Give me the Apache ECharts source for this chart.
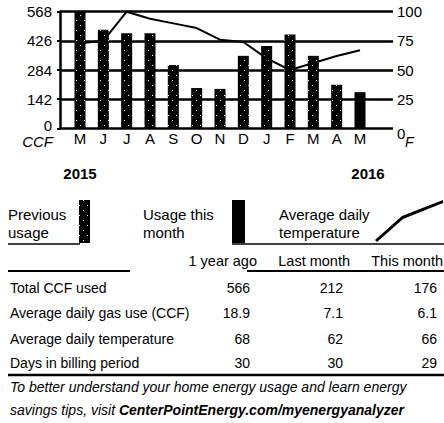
<!DOCTYPE html>
<html><head><meta charset="utf-8">
<script src="https://cdn.jsdelivr.net/npm/echarts@6/dist/echarts.min.js"></script>
<style>html,body{margin:0;padding:0;background:#fff}#c{width:444px;height:423px}</style>
</head><body><div id="c"></div>
<script>
const months = ['M','J','J','A','S','O','N','D','J','F','M','A','M'];
const usage = [566,480,463,463,308,196,192,353,401,457,353,212,176];
const temps = [73,75,100,94,90,86,76,74,60,50,56,62,67];
const ccfMax = 568, ccfStep = 142;
const tempMax = 100, tempStep = 25;
const years = ['2015','2016'];
const legendNames = ['Previous usage','Usage this month','Average daily temperature'];
const legendLabels = [['Previous','usage'],['Usage this','month'],['Average daily','temperature']];
const tableHeaders = ['1 year ago','Last month','This month'];
const rowLabels = ['Total CCF used','Average daily gas use (CCF)','Average daily temperature','Days in billing period'];
const yearAgo = ['566','18.9','68','30'];
const lastMonth = ['212','7.1','62','30'];
const thisMonth = ['176','6.1','66','29'];
const footer1 = 'To better understand your home energy usage and learn energy';
const footer2a = 'savings tips, visit ';
const footer2b = 'CenterPointEnergy.com/myenergyanalyzer';

const N = "'Liberation Sans',Arial,sans-serif";
const K = '#000000';
const lastIdx = usage.length - 1;
const prevData = usage.map((v, i) => i < lastIdx ? v : '-');
const curData = usage.map((v, i) => i === lastIdx ? v : '-');

const decal = { color: '#ffffff', backgroundColor: null, symbol: 'rect', symbolSize: 1,
  dashArrayX: [[1, 7], [0, 4, 1, 3]], dashArrayY: [1, 4], rotation: 0 };

const gTop = 11.7, gBottom = 423 - 128.3;
const g = [];
function txt(x, y, s, o) { g.push({ type: 'text', x, y, silent: true, style: Object.assign({ text: s, fill: K, font: "14px " + N, textVerticalAlign: 'middle' }, o || {}) }); }
function hline(x1, y1, x2, y2, w) { g.push({ type: 'line', silent: true, shape: { x1, y1, x2, y2 }, style: { stroke: K, lineWidth: w || 2 } }); }

txt(52, 125, '0', { textAlign: 'right', font: "15px " + N });
txt(53, 141, 'CCF', { textAlign: 'right', font: "italic 15px " + N });
txt(397, 133, '0', { textAlign: 'left', font: "15px " + N });
txt(405, 142, 'F', { textAlign: 'left', font: "italic 14px " + N });
txt(80, 173, years[0], { textAlign: 'center', font: "bold 15px " + N });
txt(368, 173, years[1], { textAlign: 'center', font: "bold 15px " + N });
hline(8, 244, 80, 244, 1.5);
hline(232, 244, 444, 244, 1.5);
const colRight = [257, 350, 443];
tableHeaders.forEach((h, i) => txt(colRight[i], 261, h, { textAlign: 'right', font: "14.5px " + N }));
hline(8, 271, 130, 271, 2);
hline(247, 271, 444, 271, 2);
const valRight = [250, 343, 437];
const rowY = [288, 313, 339, 363];
rowLabels.forEach((r, i) => {
  txt(10, rowY[i], r);
  txt(valRight[0], rowY[i], yearAgo[i], { textAlign: 'right' });
  txt(valRight[1], rowY[i], lastMonth[i], { textAlign: 'right' });
  txt(valRight[2], rowY[i], thisMonth[i], { textAlign: 'right' });
});
hline(8, 375, 444, 375, 2.5);
txt(10, 387, footer1, { font: "italic 14px " + N });
g.push({ type: 'text', x: 10, y: 410, silent: true, style: {
  text: '{a|' + footer2a + '}{b|' + footer2b + '}', textVerticalAlign: 'middle',
  rich: { a: { font: "italic 14px " + N, fill: K }, b: { font: "italic bold 14px " + N, fill: K } } } });

function legendItem(idx, left, w, iw, ih, icon) {
  return {
    show: true, data: [legendNames[idx]], left, top: 200, padding: 0, align: 'right',
    itemWidth: iw, itemHeight: ih, selectedMode: false, icon,
    formatter: () => legendLabels[idx].map(s => '{a|' + s + '}').join('\n'),
    textStyle: { rich: { a: { width: w, align: 'left', fontSize: 15, fontFamily: N, color: K, lineHeight: 18, padding: [4, 0, 0, 0] } } }
  };
}

const option = {
  animation: false,
  backgroundColor: '#ffffff',
  grid: [
    { left: 60, right: 51, top: gTop, bottom: gBottom },
    { left: 68.33, right: 72.33, top: gTop, bottom: gBottom }
  ],
  legend: [
    legendItem(0, 8, 66, 11, 43, 'rect'),
    legendItem(1, 143, 84, 13, 43, 'rect'),
    legendItem(2, 279, 91, 68, 42, 'path://M0,40 L27,16 L68,0 L68,3 L28,19 L2,42 Z')
  ],
  xAxis: [
    { type: 'value', gridIndex: 0, min: 0, max: 1, show: false },
    { type: 'category', gridIndex: 1, data: months, axisLine: { show: false }, axisTick: { show: false },
      axisLabel: { margin: 3, fontSize: 15, fontFamily: N, color: K, interval: 0 } }
  ],
  yAxis: [
    { type: 'value', gridIndex: 0, min: 0, max: ccfMax, interval: ccfStep, position: 'left',
      axisLine: { show: true, lineStyle: { color: K, width: 2.5 } },
      axisTick: { show: true, length: 3, lineStyle: { color: K, width: 2 } },
      splitLine: { show: true, lineStyle: { color: K, width: 2.5 } },
      axisLabel: { margin: 8, fontSize: 15, fontFamily: N, color: K, formatter: v => v === 0 ? '' : String(v) } },
    { type: 'value', gridIndex: 0, min: 0, max: tempMax, interval: tempStep, position: 'right',
      axisLine: { show: false }, axisTick: { show: false }, splitLine: { show: false },
      axisLabel: { margin: 4, fontSize: 15, fontFamily: N, color: K, padding: [6, 0, 0, 0], formatter: v => v === 0 ? '' : String(v) } },
    { type: 'value', gridIndex: 1, min: 0, max: ccfMax, show: false },
    { type: 'value', gridIndex: 1, min: 0, max: tempMax, show: false }
  ],
  series: [
    { name: legendNames[0], type: 'bar', xAxisIndex: 1, yAxisIndex: 2, data: prevData, barWidth: 11, z: 3,
      itemStyle: { color: K, decal } },
    { name: legendNames[1], type: 'bar', xAxisIndex: 1, yAxisIndex: 2, data: curData, barWidth: 11, barGap: '-100%', z: 3,
      itemStyle: { color: K } },
    { name: legendNames[2], type: 'line', xAxisIndex: 1, yAxisIndex: 3, data: temps, symbol: 'none',
      lineStyle: { color: K, width: 2 }, itemStyle: { color: K }, z: 5 }
  ],
  graphic: g
};
const chart = echarts.init(document.getElementById('c'), null, { renderer: 'svg' });
chart.setOption(option);
</script></body></html>
